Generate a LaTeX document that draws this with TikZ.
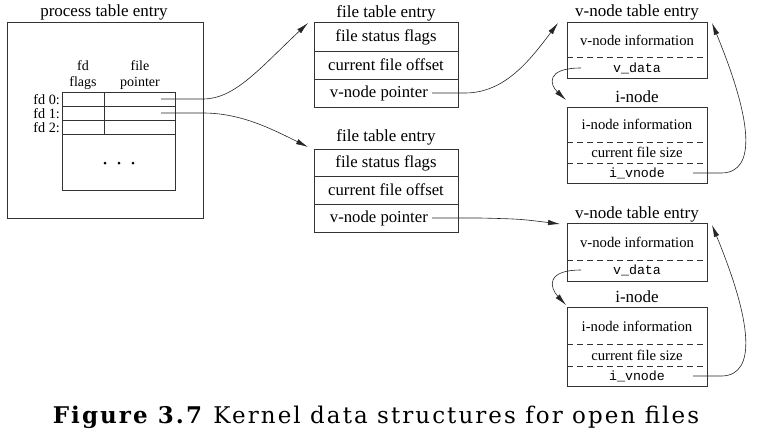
\documentclass[tikz,border=0pt]{standalone}
\usepackage{fontspec}
\setmainfont{Liberation Serif}
\setmonofont{Liberation Mono}
\newfontfamily\capfont[LetterSpace=9]{DejaVu Serif}
\usetikzlibrary{arrows.meta}
\begin{document}
\begin{tikzpicture}[x=1pt,y=-1pt,
  box/.style={draw=black!80,line width=0.7pt},
  dbox/.style={draw=black!80,line width=0.6pt,dash pattern=on 6pt off 4pt},
  ttl/.style={inner sep=0pt,font=\fontsize{17}{17}\selectfont},
  ftxt/.style={inner sep=0pt,font=\fontsize{16.7}{17}\selectfont},
  vtxt/.style={inner sep=0pt,font=\fontsize{14.7}{15}\selectfont},
  mtxt/.style={inner sep=0pt,font=\ttfamily\fontsize{13.3}{14}\selectfont},
  smalltxt/.style={inner sep=0pt,font=\fontsize{14.2}{14}\selectfont},
  hdrtxt/.style={inner sep=0pt,font=\fontsize{14}{14}\selectfont},
  conn/.style={draw=black!85,line width=0.6pt,-{Latex[length=12pt,width=5.5pt]}}]
\useasboundingbox (0,0) rectangle (758,440);
\fill[white] (0,0) rectangle (758,440);

% ---------- process table entry ----------
\node[ttl] (pte) at (104,12) {process table entry};
\draw[box] (7,22) rectangle (203,218);
\draw[box] (62,92) rectangle (175,190);
\draw[box] (62,106) -- (175,106);
\draw[box] (62,120) -- (175,120);
\draw[box] (62,134) -- (175,134);
\draw[box] (104,92) -- (104,134);
\node[hdrtxt,anchor=base] (hfd) at (83,70.5) {fd};
\node[hdrtxt,anchor=base] (hflags) at (83,86) {flags};
\node[hdrtxt,anchor=base] (hfile) at (140,70.5) {file};
\node[hdrtxt,anchor=base] (hptr) at (140,86) {pointer};
\node[smalltxt,anchor=base east] (fd0) at (60,104) {fd 0:};
\node[smalltxt,anchor=base east] (fd1) at (60,118) {fd 1:};
\node[smalltxt,anchor=base east] (fd2) at (60,132) {fd 2:};
\fill (105,163) circle (1.5) (119,163) circle (1.5) (133,163) circle (1.5);
\coordinate (fd0p) at (161,99);
\coordinate (fd1p) at (161,113);

% ---------- file table entries ----------
\node[ttl] (ft1t) at (386,13) {file table entry};
\draw[box] (314,22) rectangle (458,107);
\draw[box] (314,51) -- (458,51);
\draw[box] (314,79) -- (458,79);
\node[ftxt] (ft1a) at (386,37) {file status flags};
\node[ftxt] (ft1b) at (386,65) {current file offset};
\node[ftxt,anchor=east] (ft1c) at (428,93) {v-node pointer};

\node[ttl] (ft2t) at (386,137) {file table entry};
\draw[box] (314,149) rectangle (458,232);
\draw[box] (314,176) -- (458,176);
\draw[box] (314,204) -- (458,204);
\node[ftxt] (ft2a) at (386,163) {file status flags};
\node[ftxt] (ft2b) at (386,190) {current file offset};
\node[ftxt,anchor=east] (ft2c) at (428,218) {v-node pointer};

% ---------- v-node / i-node 1 ----------
\node[ttl] (vn1t) at (637,12) {v-node table entry};
\draw[box] (567,22) rectangle (707,78);
\draw[dbox] (567,57) -- (707,57);
\node[vtxt] (vn1a) at (637,40) {v-node information};
\node[mtxt] (vn1b) at (637,68) {v\_data};
\node[ttl] (in1t) at (637,97) {i-node};
\draw[box] (567,107) rectangle (707,183);
\draw[dbox] (567,142) -- (707,142);
\draw[dbox] (567,163) -- (707,163);
\node[vtxt] (in1a) at (637,124) {i-node information};
\node[vtxt] (in1b) at (637,152.5) {current file size};
\node[mtxt] (in1c) at (637,173) {i\_vnode};

% ---------- v-node / i-node 2 ----------
\node[ttl] (vn2t) at (637,214) {v-node table entry};
\draw[box] (567,223) rectangle (707,281);
\draw[dbox] (567,260) -- (707,260);
\node[vtxt] (vn2a) at (637,242) {v-node information};
\node[mtxt] (vn2b) at (637,270) {v\_data};
\node[ttl] (in2t) at (637,297) {i-node};
\draw[box] (567,307) rectangle (707,386);
\draw[dbox] (567,344) -- (707,344);
\draw[dbox] (567,366) -- (707,366);
\node[vtxt] (in2a) at (637,326) {i-node information};
\node[vtxt] (in2b) at (637,355) {current file size};
\node[mtxt] (in2c) at (637,376) {i\_vnode};

% ---------- arrow end points ----------
\coordinate (ft1in) at (308,23);
\coordinate (ft2in) at (308,147);
\coordinate (vn1in) at (558,23);
\coordinate (vn2in) at (560,224);
\coordinate (in1in) at (566,100);
\coordinate (in2in) at (566,305);
\coordinate (vn1back) at (712,23);
\coordinate (vn2back) at (712,225);
\coordinate (vd1) at (581,68);
\coordinate (vd2) at (581,270);
\coordinate (iv1) at (693,173);
\coordinate (iv2) at (693,376);

% ---------- connectors ----------
\draw[conn] (fd0p) -- (203,99) .. controls (235,99) and (260,68) .. (ft1in);
\draw[conn] (fd1p) -- (203,113) .. controls (240,113) and (270,128) .. (ft2in);
\draw[conn] ([xshift=4pt]ft1c.east) -- (465,93) .. controls (505,93) and (530,60) .. (vn1in);
\draw[conn] ([xshift=4pt]ft2c.east) -- (480,218) .. controls (520,219) .. (vn2in);
\draw[conn] (vd1) .. controls (545,68) and (550,85) .. (in1in);
\draw[conn] (vd2) .. controls (545,270) and (550,288) .. (in2in);
\draw[conn] (iv1) -- (722,173) .. controls (757,172) and (752,120) .. (vn1back);
\draw[conn] (iv2) -- (722,376) .. controls (757,375) and (752,322) .. (vn2back);

% ---------- caption ----------
\node[anchor=base,inner sep=0pt] (cap) at (376,423)
  {\capfont\fontsize{23}{23}\selectfont\textbf{Figure 3.7} Kernel data structures for open files};
\end{tikzpicture}
\end{document}
